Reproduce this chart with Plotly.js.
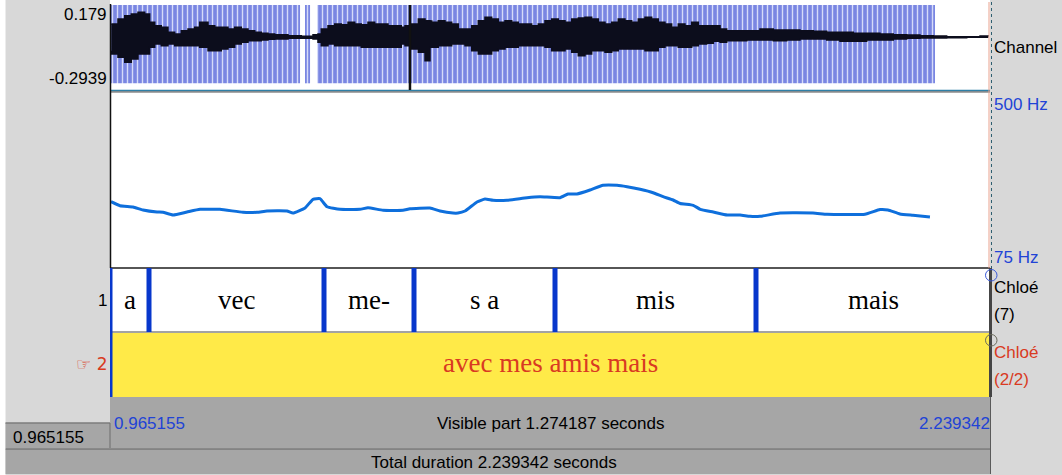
<!DOCTYPE html>
<html><head><meta charset="utf-8">
<script src="https://cdn.plot.ly/plotly-3.0.1.min.js"></script>
<style>html,body{margin:0;padding:0;background:#d8d8d8;}#c{width:1062px;height:475px;}</style>
</head><body><div id="c"></div>
<script>
// ---- data ----
const visibleStart = 0.965155;
const visibleEnd = 2.239342;
const totalDuration = 2.239342;
const ampMax = 0.179;
const ampMin = -0.2939;
const pitchFloor = 75;
const pitchCeiling = 500;
const cursorTime = 1.3995;

const tier1Bounds = [0.965155, 1.02162, 1.27501, 1.40533, 1.60949, 1.90053];
const tier1Labels = ["a", "vec", "me-", "s a", "mis", "mais"];
const tier1End = 2.239342;
const tier1Count = 7;
const tier2Bounds = [0.965155];
const tier2Labels = ["avec mes amis mais"];
const tier2End = 2.239342;

const voicedStart = [0.96516, 1.2475, 1.2649];
const voicedEnd   = [1.2403, 1.2548, 2.1597];

const waveTimes = [0.9670,0.9767,0.9865,0.9960,1.0057,1.0154,1.0226,1.0299,1.0394,1.0491,1.0588,1.0684,1.0781,1.0878,1.0950,1.1071,1.1168,1.1263,1.1360,1.1457,1.1553,1.1650,1.1747,1.1842,1.1939,1.2036,1.2229,1.2422,1.2591,1.2663,1.2711,1.2808,1.2905,1.3001,1.3098,1.3195,1.3290,1.3387,1.3484,1.3677,1.3869,
1.3923,1.4020,1.4116,1.4213,1.4285,1.4310,1.4405,1.4502,1.4599,1.4695,1.4792,1.4889,1.4984,1.5081,1.5178,1.5274,1.5371,1.5468,1.5563,1.5660,1.5757,1.5853,1.5950,1.6047,1.6143,1.6240,1.6337,1.6432,1.6529,1.6626,1.6722,1.6819,1.6916,1.7011,1.7108,1.7205,1.7301,1.7398,1.7495,1.7590,1.7687,1.7784,1.7880,1.7977,1.8074,1.8170,
1.8291,1.8388,1.8485,1.8581,1.8678,1.8872,1.9063,1.9256,1.9450,1.9642,1.9835,2.0029,2.0221,2.0414,2.0608,2.0800,2.0993,2.1187,2.1380,2.1572,2.1766,2.2056,2.2249,2.2369];
const waveUpper = [0.0707,0.0992,0.118,0.1277,0.1374,0.1277,0.0804,0.061,0.0519,0.0234,0.0137,0.0325,0.0422,0.0519,0.0804,0.061,0.0519,0.0519,0.0422,0.0519,0.0422,0.0325,0.0234,0.0177,0.0137,0.0097,0.0040,0.0006,0.0097,0.0137,0.0422,0.061,0.0707,0.0667,0.0804,0.0707,0.0667,0.0804,0.0707,0.061,0.0519,
0.0612,0.0707,0.0992,0.0897,0.088,0.0802,0.0897,0.0802,0.0707,0.0422,0.0422,0.0612,0.0897,0.1087,0.0992,0.0802,0.0897,0.0802,0.0707,0.0707,0.0612,0.0707,0.0897,0.0992,0.0897,0.0802,0.0992,0.1049,0.1087,0.0992,0.0802,0.0707,0.0802,0.0992,0.0897,0.0802,0.0992,0.1087,0.0992,0.0802,0.0707,0.0517,0.0707,0.0612,0.0802,0.0612,
0.0612,0.0612,0.0422,0.0327,0.0327,0.0327,0.0422,0.0365,0.0365,0.0327,0.0289,0.0232,0.0232,0.0175,0.0175,0.0137,0.0099,0.008,0.0042,0.0023,-0.0015,-0.0015,0.0023,0.0004];
const waveLower = [-0.0815,-0.0999,-0.119,-0.1476,-0.1288,-0.0999,-0.0999,-0.0621,-0.0433,-0.0530,-0.0433,-0.0530,-0.0530,-0.0530,-0.0530,-0.0621,-0.0815,-0.0815,-0.0718,-0.0621,-0.0433,-0.0336,-0.0245,-0.0245,-0.0205,-0.0165,-0.0148,-0.0108,-0.0108,-0.0148,-0.0336,-0.0530,-0.0433,-0.0530,-0.053,-0.053,-0.053,-0.0621,-0.0621,-0.0621,-0.0621,
-0.0433,-0.0528,-0.0718,-0.0908,-0.1383,-0.0623,-0.0623,-0.0528,-0.0528,-0.0433,-0.0433,-0.0528,-0.0813,-0.1003,-0.1003,-0.0813,-0.0718,-0.0623,-0.0623,-0.0528,-0.0528,-0.0528,-0.0528,-0.0623,-0.0813,-0.0813,-0.0718,-0.0908,-0.1098,-0.1003,-0.0813,-0.0813,-0.0908,-0.0813,-0.0718,-0.0718,-0.0718,-0.0718,-0.0813,-0.0813,-0.0623,-0.0528,-0.0528,-0.0623,-0.0623,-0.0528,
-0.0433,-0.0395,-0.0281,-0.0338,-0.0243,-0.0243,-0.0205,-0.0205,-0.0243,-0.0205,-0.0148,-0.0148,-0.0205,-0.0281,-0.0281,-0.0205,-0.0205,-0.0148,-0.011,-0.0091,-0.0091,-0.0072,-0.0053,-0.0053];

const pitchTimes = [0.9666,0.9796,0.9985,1.0129,1.0332,1.0419,1.0564,1.0766,1.0955,1.1244,1.1577,1.1780,1.1925,1.2214,1.2301,1.2475,1.2591,1.2692,1.2794,1.2982,1.3271,1.3387,1.3605,1.3894,1.3995,1.4285,1.4430,1.4618,1.4690,1.4792,1.4965,1.5081,1.5197,1.5400,1.5690,1.5878,1.6167,1.6283,1.6413,1.6602,1.6790,1.6993,1.7138,1.7327,1.7515,1.7660,1.7805,1.7908,1.8096,1.8198,1.8386,1.8589,1.8774,1.8918,1.9063,1.9353,1.9831,2.0034,2.0583,2.0800,2.0916,2.1089,2.1278,2.1524];
const pitchHz = [235.1,225.4,222.3,215.1,210.2,209.5,203.0,210.2,216.7,216.7,209.5,209.5,212.6,212.6,207.8,219.9,240.9,242.4,223.0,216.7,216.7,220.6,214.3,214.3,218.2,219.9,212.6,207.8,207.8,212.6,234.4,241.6,238.5,238.5,244.8,247.2,244.8,253.7,253.7,263.4,274.7,274.7,271.3,265.0,256.8,247.2,239.2,230.8,226.4,216.7,210.2,203.0,203.0,199.8,199.8,207.8,207.8,204.7,204.7,216.1,215.1,205.4,202.3,198.2];

// ---- layout helpers (pixel -> paper) ----
const W = 1062, H = 475;
const px = x => x / W;
const py = y => 1 - y / H;
const SANS = "Liberation Sans, Arial, Helvetica, sans-serif";
const SERIF = "Liberation Serif, Times New Roman, Times, serif";
const BLUE_TXT = "#2143d6";
const RED = "#d93a22";
const BOUND = "#0737cc";
const WAVE = "#0c0d1c";

// ---- traces ----
const pulseBase = -0.2672;
const traces = [];
traces.push({
  type: "bar", xaxis: "x", yaxis: "y",
  x: voicedStart.map((s, i) => (s + voicedEnd[i]) / 2),
  width: voicedStart.map((s, i) => voicedEnd[i] - s),
  y: voicedStart.map(() => ampMax - pulseBase),
  base: pulseBase,
  marker: { color: "#7a86e2", line: { width: 0 },
    pattern: { shape: "|", fgcolor: "#d6dbf9", bgcolor: "#7a86e2", size: 5, solidity: 0.28, fillmode: "replace" } },
  hoverinfo: "skip"
});
traces.push({
  type: "scatter", mode: "lines", xaxis: "x", yaxis: "y",
  x: waveTimes, y: waveUpper, line: { color: WAVE, width: 1.5, shape: "hv" }, hoverinfo: "skip"
});
traces.push({
  type: "scatter", mode: "lines", xaxis: "x", yaxis: "y",
  x: waveTimes, y: waveLower, fill: "tonexty", fillcolor: WAVE,
  line: { color: WAVE, width: 1.5, shape: "vh" }, hoverinfo: "skip"
});
traces.push({
  type: "scatter", mode: "lines", xaxis: "x", yaxis: "y2",
  x: pitchTimes, y: pitchHz, line: { color: "#0e6fdc", width: 3, shape: "spline", smoothing: 0.4 }, hoverinfo: "skip"
});

// ---- shapes ----
const shapes = [];
const rectP = (x0, y0, x1, y1, fill, extra) => Object.assign({
  type: "rect", xref: "paper", yref: "paper", x0: px(x0), x1: px(x1), y0: py(y1), y1: py(y0),
  fillcolor: fill, line: { width: 0 }, layer: "below" }, extra || {});
const lineP = (x0, y0, x1, y1, color, width, extra) => Object.assign({
  type: "line", xref: "paper", yref: "paper", x0: px(x0), x1: px(x1), y0: py(y0), y1: py(y1),
  line: { color: color, width: width }, layer: "above" }, extra || {});

shapes.push(rectP(0, 0, 5.5, 475, "#ffffff"));
shapes.push(rectP(110, 0, 990, 90, "#ffffff"));
shapes.push(rectP(110, 92, 990, 268, "#ffffff"));
shapes.push(rectP(110, 268, 990, 332, "#ffffff"));
// selected interval in tier 2
shapes.push({ type: "rect", xref: "x", yref: "paper", x0: tier2Bounds[0], x1: tier2End,
  y0: py(397), y1: py(332), fillcolor: "#ffea48", line: { width: 0 }, layer: "below" });
// bottom bars
shapes.push(rectP(110, 397, 990, 448, "#a6a6a6"));
shapes.push(rectP(5.5, 423, 110, 448, "#a6a6a6"));
shapes.push(rectP(5.5, 449.5, 990, 474, "#a6a6a6"));
shapes.push(lineP(5.5, 423, 110, 423, "#7d7d7d", 1.5));
shapes.push(lineP(110, 423, 110, 448, "#6d6d6d", 1));
shapes.push(lineP(5.5, 449, 990, 449, "#6f6f6f", 1.5));
shapes.push(lineP(990.5, 397, 990.5, 474, "#5a5a5a", 1));

// panel borders
shapes.push(lineP(110, 90.5, 990, 90.5, "#2f7fa6", 1.5));
shapes.push(lineP(110, 92, 990, 92, "#555555", 1));
shapes.push(lineP(110, 268, 990, 268, "#1e1e1e", 1.5));
shapes.push(lineP(110.5, 4, 110.5, 268, "#111111", 1.5));
shapes.push(lineP(110, 332, 990, 332, "#a3a3a3", 2));
shapes.push(lineP(989, 2, 989, 268, "#e9a28e", 1));
shapes.push(lineP(991.5, 2, 991.5, 268, "#2f5f70", 1, { line: { color: "#2f5f70", width: 1, dash: "dot" } }));
shapes.push(lineP(990.5, 268, 990.5, 397, "#454545", 3));

// cursor
shapes.push({ type: "line", xref: "x", yref: "paper", x0: cursorTime, x1: cursorTime,
  y0: py(90), y1: py(5), line: { color: "#111111", width: 2.5 }, layer: "above" });

// tier boundaries
tier1Bounds.forEach(t => shapes.push({ type: "line", xref: "x", yref: "paper", x0: t, x1: t,
  y0: py(332), y1: py(268), line: { color: BOUND, width: 5 }, layer: "above" }));
tier2Bounds.forEach(t => shapes.push({ type: "line", xref: "x", yref: "paper", x0: t, x1: t,
  y0: py(397), y1: py(332), line: { color: BOUND, width: 5 }, layer: "above" }));

// small circles at the right of the tiers
shapes.push({ type: "circle", xref: "paper", yref: "paper", x0: px(985.5), x1: px(997), y0: py(281), y1: py(269.5),
  line: { color: "#3a5ad8", width: 1 }, fillcolor: "rgba(0,0,0,0)", layer: "above" });
shapes.push({ type: "circle", xref: "paper", yref: "paper", x0: px(985.5), x1: px(997), y0: py(346), y1: py(334.5),
  line: { color: "#6a6a5a", width: 1 }, fillcolor: "rgba(0,0,0,0)", layer: "above" });

// ---- annotations ----
const ann = [];
const txt = (text, x, y, xanchor, color, size, family, extra) => Object.assign({
  text: text, xref: "paper", yref: "paper", x: px(x), y: py(y), xanchor: xanchor, yanchor: "middle",
  showarrow: false, font: { family: family || SANS, size: size || 17, color: color || "#000000" },
  borderpad: 0 }, extra || {});

ann.push(txt(String(ampMax), 108, 15, "right"));
ann.push(txt(String(ampMin), 108, 79, "right"));
ann.push(txt("Channel", 993, 47, "left"));
ann.push(txt(pitchCeiling + " Hz", 993, 104, "left", BLUE_TXT));
ann.push(txt(pitchFloor + " Hz", 993, 257, "left", BLUE_TXT));
ann.push(txt("1", 108, 300, "right"));
ann.push(txt("☞ 2", 108, 364, "right", RED, 17, "DejaVu Sans, Liberation Sans, sans-serif"));
ann.push(txt("Chloé", 993, 287, "left"));
ann.push(txt("(" + tier1Count + ")", 993, 314, "left"));
ann.push(txt("Chloé", 993, 352, "left", RED));
ann.push(txt("(2/2)", 993, 379, "left", RED));

tier1Labels.forEach((lab, i) => {
  const a = tier1Bounds[i], b = (i + 1 < tier1Bounds.length) ? tier1Bounds[i + 1] : tier1End;
  ann.push({ text: lab, xref: "x", yref: "paper", x: (a + b) / 2, y: py(300), xanchor: "center", yanchor: "middle",
    showarrow: false, font: { family: SERIF, size: 27, color: "#000000" } });
});
tier2Labels.forEach((lab, i) => {
  const a = tier2Bounds[i], b = (i + 1 < tier2Bounds.length) ? tier2Bounds[i + 1] : tier2End;
  ann.push({ text: lab, xref: "x", yref: "paper", x: (a + b) / 2, y: py(363), xanchor: "center", yanchor: "middle",
    showarrow: false, font: { family: SERIF, size: 27, color: RED } });
});

ann.push(txt(visibleStart.toFixed(6), 113, 423, "left", BLUE_TXT));
ann.push(txt(visibleEnd.toFixed(6), 991, 423, "right", BLUE_TXT));
ann.push(txt("Visible part " + (visibleEnd - visibleStart).toFixed(6) + " seconds", 550, 423, "center"));
ann.push(txt(visibleStart.toFixed(6), 12, 437, "left"));
ann.push(txt("Total duration " + totalDuration.toFixed(6) + " seconds", 494, 462, "center"));

const hidden = { showgrid: false, zeroline: false, showticklabels: false, ticks: "", showline: false, fixedrange: true };
const layout = {
  width: W, height: H, margin: { l: 0, r: 0, t: 0, b: 0, pad: 0 },
  paper_bgcolor: "#d8d8d8", plot_bgcolor: "rgba(0,0,0,0)",
  showlegend: false, hovermode: false, barmode: "overlay",
  xaxis: Object.assign({ domain: [px(110), px(990)], range: [visibleStart, visibleEnd], anchor: "y" }, hidden),
  yaxis: Object.assign({ domain: [py(88), py(5)], range: [ampMin, ampMax], anchor: "x" }, hidden),
  yaxis2: Object.assign({ domain: [py(268), py(92)], range: [pitchFloor, pitchCeiling], anchor: "x" }, hidden),
  shapes: shapes, annotations: ann
};
Plotly.newPlot("c", traces, layout, { displayModeBar: false, staticPlot: true });
</script></body></html>
